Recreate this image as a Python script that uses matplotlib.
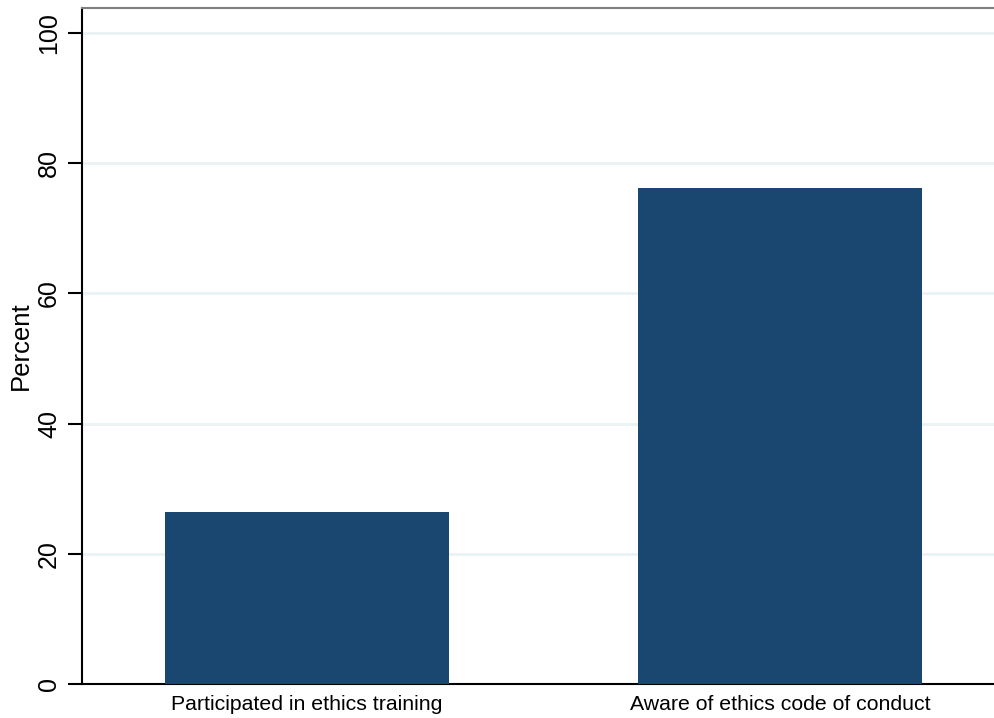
import matplotlib
matplotlib.use('Agg')
import matplotlib.pyplot as plt

plt.rcParams['font.family'] = ['Liberation Sans', 'DejaVu Sans']

categories = ['Participated in ethics training', 'Aware of ethics code of conduct']
percent = [26.4, 76.2]
yticks = [0, 20, 40, 60, 80, 100]

fig = plt.figure(figsize=(9.95, 7.18), dpi=100)
ax = fig.add_axes([0.0824, 0.0474, 0.9176, 0.9415])

pos = list(range(len(categories)))
ax.bar(pos, percent, width=0.6, color='#1A476F', zorder=3)

ax.set_xlim(-0.4757, 1.4545)
ax.set_ylim(0, 103.84)
ax.set_xticks(pos)
ax.set_xticklabels(categories, fontsize=15.3)
ax.tick_params(axis='x', length=0, pad=8)
ax.set_yticks(yticks)
ax.set_yticklabels([str(t) for t in yticks], fontsize=18, rotation=90, va='center')
ax.tick_params(axis='y', length=10, width=1.5, pad=5)
ax.set_ylabel('Percent', fontsize=18.5, labelpad=3)

for t in yticks[1:]:
    ax.axhline(t, color='#EAF2F3', lw=2, zorder=1)

ax.spines['right'].set_visible(False)
ax.spines['top'].set_color('#808080')
ax.spines['top'].set_linewidth(1.5)
ax.spines['left'].set_linewidth(1.5)
ax.spines['bottom'].set_linewidth(1.5)

fig.savefig('out.png', dpi=100)
